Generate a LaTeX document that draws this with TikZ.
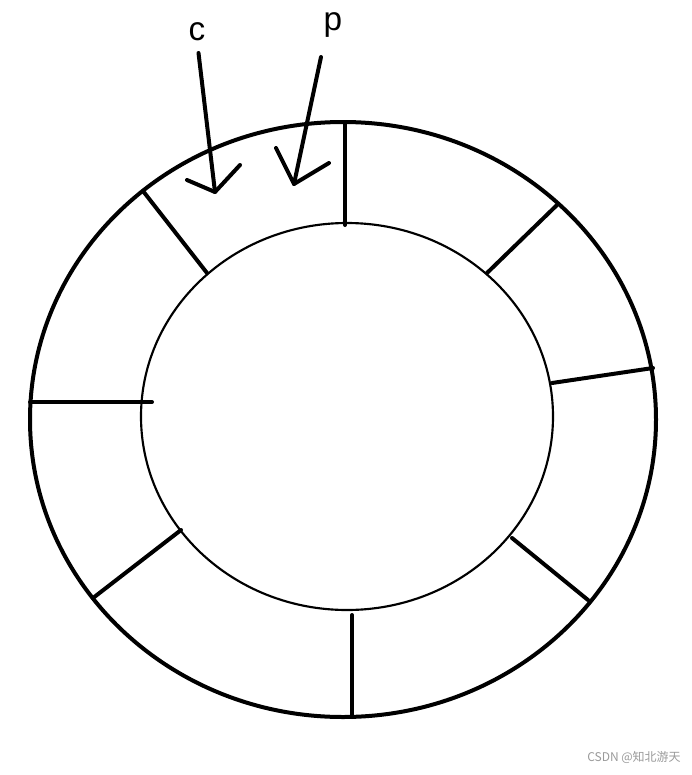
\documentclass[tikz,border=0pt]{standalone}
\usepackage{fontspec}
\setmainfont{Liberation Sans}
\newfontfamily\cjkfont{Noto Sans CJK SC}
\definecolor{wmgray}{HTML}{9A9A9A}
\begin{document}
\begin{tikzpicture}[x=0.75pt,y=-0.75pt,
  thick line/.style={line width=3pt,line cap=round,line join=round},
  thin line/.style={line width=1.6pt},
  lbl/.style={font=\fontsize{25}{30}\selectfont,inner sep=0pt}]
\useasboundingbox[fill=white] (0,0) rectangle (692,775);
% rings
\draw[thick line] (343,419.5) ellipse [x radius=313, y radius=297.5];
\draw[thin line] (347,416.5) ellipse [x radius=206, y radius=193.5];
% spokes
\coordinate (o1) at (345,122); \coordinate (i1) at (345,225);
\coordinate (o2) at (557,205); \coordinate (i2) at (487,273);
\coordinate (o3) at (653,368); \coordinate (i3) at (552,383);
\coordinate (o4) at (588,600); \coordinate (i4) at (512,538);
\coordinate (o5) at (352,717); \coordinate (i5) at (352,615);
\coordinate (o6) at (93,598);  \coordinate (i6) at (181,530);
\coordinate (o7) at (30,402);  \coordinate (i7) at (152,402);
\coordinate (o8) at (143,191); \coordinate (i8) at (207,273);
\foreach \k in {1,...,8} \draw[thick line] (o\k) -- (i\k);
% labels and arrows
\node[lbl] (c) at (197,32) {c};
\node[lbl] (p) at (333,25) {p};
\coordinate (cs) at (198.5,53); \coordinate (ct) at (215,192);
\coordinate (ca1) at (187,180); \coordinate (ca2) at (240,165);
\coordinate (ps) at (321,57); \coordinate (pt) at (294,184);
\coordinate (pa1) at (276,148); \coordinate (pa2) at (329,163);
\draw[thick line] (cs) -- (ct);
\draw[thick line] (ca1) -- (ct) -- (ca2);
\draw[thick line] (ps) -- (pt);
\draw[thick line] (pa1) -- (pt) -- (pa2);
% watermark
\node[anchor=east,inner sep=0pt,text=wmgray,font=\cjkfont\fontsize{9}{10}\selectfont] (wm) at (681,757) {CSDN @知北游天};
\end{tikzpicture}
\end{document}
